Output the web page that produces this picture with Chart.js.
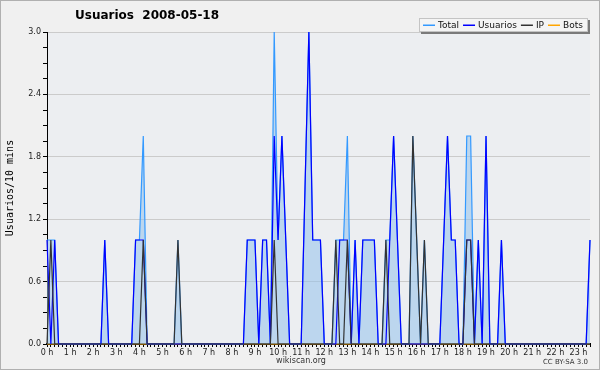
<!DOCTYPE html>
<html>
<head>
<meta charset="utf-8">
<script src="https://cdn.jsdelivr.net/npm/chart.js@4.4.0/dist/chart.umd.min.js"></script>
<style>
    html, body { margin: 0; padding: 0; background: #f0f0f0; }
    #grafico { display: block; }
</style>
</head>
<body>
<canvas id="grafico" width="600" height="370"></canvas>
<script>
// Dados (um valor a cada 10 minutos, linhas de 2 horas)
const usuarios = [
    1, 0, 1, 0, 0, 0, 0, 0, 0, 0, 0, 0,
    0, 0, 0, 1, 0, 0, 0, 0, 0, 0, 0, 1,
    1, 1, 0, 0, 0, 0, 0, 0, 0, 0, 0, 0,
    0, 0, 0, 0, 0, 0, 0, 0, 0, 0, 0, 0,
    0, 0, 0, 0, 1, 1, 1, 0, 1, 1, 0, 2,
    1, 2, 1, 0, 0, 0, 0, 1.5, 3, 1, 1, 1,
    0, 0, 0, 0, 1, 1, 1, 0, 1, 0, 1, 1,
    1, 1, 0, 0, 0, 1, 2, 1, 0, 0, 0, 0,
    0, 0, 0, 0, 0, 0, 0, 1, 2, 1, 1, 0,
    0, 1, 1, 0, 1, 0, 2, 0, 0, 0, 1, 0,
    0, 0, 0, 0, 0, 0, 0, 0, 0, 0, 0, 0,
    0, 0, 0, 0, 0, 0, 0, 0, 0, 1
];

const ip = [
    0, 1, 0, 0, 0, 0, 0, 0, 0, 0, 0, 0,
    0, 0, 0, 0, 0, 0, 0, 0, 0, 0, 0, 0,
    0, 1, 0, 0, 0, 0, 0, 0, 0, 0, 1, 0,
    0, 0, 0, 0, 0, 0, 0, 0, 0, 0, 0, 0,
    0, 0, 0, 0, 0, 0, 0, 0, 0, 0, 0, 1,
    0, 0, 0, 0, 0, 0, 0, 0, 0, 0, 0, 0,
    0, 0, 0, 1, 0, 0, 1, 0, 0, 0, 0, 0,
    0, 0, 0, 0, 1, 0, 0, 0, 0, 0, 0, 2,
    1, 0, 1, 0, 0, 0, 0, 0, 0, 0, 0, 0,
    0, 1, 1, 0, 0, 0, 0, 0, 0, 0, 0, 0,
    0, 0, 0, 0, 0, 0, 0, 0, 0, 0, 0, 0,
    0, 0, 0, 0, 0, 0, 0, 0, 0, 0
];

const bots = [
    0, 0, 0, 0, 0, 0, 0, 0, 0, 0, 0, 0,
    0, 0, 0, 0, 0, 0, 0, 0, 0, 0, 0, 0,
    0, 0, 0, 0, 0, 0, 0, 0, 0, 0, 0, 0,
    0, 0, 0, 0, 0, 0, 0, 0, 0, 0, 0, 0,
    0, 0, 0, 0, 0, 0, 0, 0, 0, 0, 0, 0,
    0, 0, 0, 0, 0, 0, 0, 0, 0, 0, 0, 0,
    0, 0, 0, 0, 0, 0, 0, 0, 0, 0, 0, 0,
    0, 0, 0, 0, 0, 0, 0, 0, 0, 0, 0, 0,
    0, 0, 0, 0, 0, 0, 0, 0, 0, 0, 0, 0,
    0, 0, 0, 0, 0, 0, 0, 0, 0, 0, 0, 0,
    0, 0, 0, 0, 0, 0, 0, 0, 0, 0, 0, 0,
    0, 0, 0, 0, 0, 0, 0, 0, 0, 0
];

const total = [
    1, 1, 1, 0, 0, 0, 0, 0, 0, 0, 0, 0,
    0, 0, 0, 1, 0, 0, 0, 0, 0, 0, 0, 1,
    1, 2, 0, 0, 0, 0, 0, 0, 0, 0, 1, 0,
    0, 0, 0, 0, 0, 0, 0, 0, 0, 0, 0, 0,
    0, 0, 0, 0, 1, 1, 1, 0, 1, 1, 0, 3,
    1, 2, 1, 0, 0, 0, 0, 1.5, 3, 1, 1, 1,
    0, 0, 0, 1, 1, 1, 2, 0, 1, 0, 1, 1,
    1, 1, 0, 0, 1, 1, 2, 1, 0, 0, 0, 2,
    1, 0, 1, 0, 0, 0, 0, 1, 2, 1, 1, 0,
    0, 2, 2, 0, 1, 0, 2, 0, 0, 0, 1, 0,
    0, 0, 0, 0, 0, 0, 0, 0, 0, 0, 0, 0,
    0, 0, 0, 0, 0, 0, 0, 0, 0, 1
];

// Rótulos das horas (um a cada 6 pontos)
const horas = [
    '0 h', '1 h', '2 h', '3 h', '4 h', '5 h', '6 h', '7 h', '8 h', '9 h', '10 h', '11 h',
    '12 h', '13 h', '14 h', '15 h', '16 h', '17 h', '18 h', '19 h', '20 h', '21 h', '22 h', '23 h'
];

const titulo = 'Usuarios  2008-05-18';

// Cores das séries: Total, Usuarios, IP, Bots
const cores = ['#3399ff', '#0000ff', '#333333', '#ffa500'];

// Converter lista em pontos {x, y}
const pontos = (lista) => lista.map((v, i) => ({ x: i, y: v }));

// Verificar se o valor é múltiplo de 0.6 (linhas de grade com rótulo)
const ehMultiplo = (v) => Math.abs(v / 0.6 - Math.round(v / 0.6)) < 1e-6;

// Fundo da figura e da área do gráfico
const fundoPlugin = {
    id: 'fundo',
    beforeDraw(chart) {
        const { ctx, chartArea: a } = chart;
        ctx.save();
        ctx.fillStyle = '#f0f0f0';
        ctx.fillRect(0, 0, chart.width, chart.height);
        ctx.fillStyle = '#eceef1';
        ctx.fillRect(a.left, a.top, a.right - a.left, a.bottom - a.top);
        ctx.strokeStyle = '#b0b0b0';
        ctx.lineWidth = 1;
        ctx.strokeRect(0.5, 0.5, chart.width - 1, chart.height - 1);
        ctx.restore();
    }
};

// Título, legenda e créditos
const textosPlugin = {
    id: 'textos',
    afterDraw(chart) {
        const ctx = chart.ctx;
        ctx.save();

        // Título
        ctx.fillStyle = '#000';
        ctx.font = 'bold 12px "DejaVu Sans"';
        ctx.textBaseline = 'middle';
        ctx.textAlign = 'left';
        ctx.fillText(titulo, 75, 16);

        // Créditos
        ctx.font = '8px "DejaVu Sans"';
        ctx.fillStyle = '#333';
        ctx.textAlign = 'center';
        ctx.fillText('wikiscan.org', 301, 361);
        ctx.font = '7px "DejaVu Sans"';
        ctx.textAlign = 'right';
        ctx.fillText('CC BY-SA 3.0', 588, 362);

        // Caixa da legenda
        const caixa = { x: 419, y: 18, w: 169, h: 14 };
        ctx.fillStyle = '#f4f4f4';
        ctx.fillRect(caixa.x, caixa.y, caixa.w, caixa.h);
        ctx.fillStyle = '#7a7a7a';
        ctx.fillRect(caixa.x + 2, caixa.y + caixa.h, caixa.w, 2);
        ctx.fillRect(caixa.x + caixa.w, caixa.y + 2, 2, caixa.h);
        ctx.strokeStyle = '#c4c4c4';
        ctx.lineWidth = 1;
        ctx.strokeRect(caixa.x + 0.5, caixa.y + 0.5, caixa.w - 1, caixa.h - 1);

        // Itens da legenda (traço colorido + nome)
        ctx.font = '9px "DejaVu Sans"';
        ctx.textAlign = 'left';
        ctx.textBaseline = 'middle';
        let x = caixa.x + 4;
        const yMeio = caixa.y + caixa.h / 2;
        chart.data.datasets.forEach((ds, i) => {
            ctx.fillStyle = cores[i];
            ctx.fillRect(x, yMeio - 0.5, 12, 1.5);
            ctx.fillStyle = '#111';
            ctx.fillText(ds.label, x + 15, yMeio + 1);
            x += 15 + ctx.measureText(ds.label).width + 4;
        });

        ctx.restore();
    }
};

// Criar gráfico
const ctx = document.getElementById('grafico').getContext('2d');
const comum = { borderWidth: 1.2, pointRadius: 0, tension: 0, clip: false };

window.graficoUsuarios = new Chart(ctx, {
    type: 'line',
    data: {
        datasets: [
            { ...comum, label: 'Total', data: pontos(total), borderColor: cores[0],
              backgroundColor: 'rgba(150, 195, 235, 0.55)', fill: 'origin', order: 4 },
            { ...comum, label: 'Usuarios', data: pontos(usuarios), borderColor: cores[1], fill: false, order: 3 },
            { ...comum, label: 'IP', data: pontos(ip), borderColor: cores[2], fill: false, order: 2 },
            { ...comum, label: 'Bots', data: pontos(bots), borderColor: cores[3], fill: false, order: 5 }
        ]
    },
    options: {
        responsive: false,
        animation: false,
        events: [],
        layout: { padding: { top: 32, right: 10, left: 0, bottom: 0 } },
        plugins: {
            legend: { display: false },
            tooltip: { enabled: false }
        },
        scales: {
            x: {
                type: 'linear',
                min: 0,
                max: usuarios.length - 1,
                z: 1,
                afterFit: (s) => { s.height = 26; },
                border: { color: '#000', width: 2 },
                grid: { drawOnChartArea: false, color: '#000', tickLength: 3 },
                ticks: {
                    stepSize: 1,
                    autoSkip: false,
                    maxRotation: 0,
                    padding: 1,
                    color: '#222',
                    font: { family: 'DejaVu Sans', size: 8 },
                    callback: (v) => (v % 6 === 0 ? horas[v / 6] : '')
                }
            },
            y: {
                min: 0,
                max: 3,
                afterFit: (s) => { s.width = 47; },
                border: { color: '#000', width: 1 },
                grid: {
                    color: (c) => (ehMultiplo(c.tick.value) ? '#cbcbcb' : 'rgba(0,0,0,0)'),
                    tickColor: '#000',
                    tickLength: 4
                },
                ticks: {
                    stepSize: 0.15,
                    autoSkip: false,
                    padding: 2,
                    color: '#222',
                    font: { family: 'DejaVu Sans', size: 8 },
                    callback: (v) => (ehMultiplo(v) ? v.toFixed(1) : '')
                },
                title: {
                    display: true,
                    text: 'Usuarios/10 mins',
                    color: '#000',
                    font: { family: 'DejaVu Sans Mono', size: 10 },
                    padding: { top: 4, bottom: 0 }
                }
            }
        }
    },
    plugins: [fundoPlugin, textosPlugin]
});
</script>
</body>
</html>
